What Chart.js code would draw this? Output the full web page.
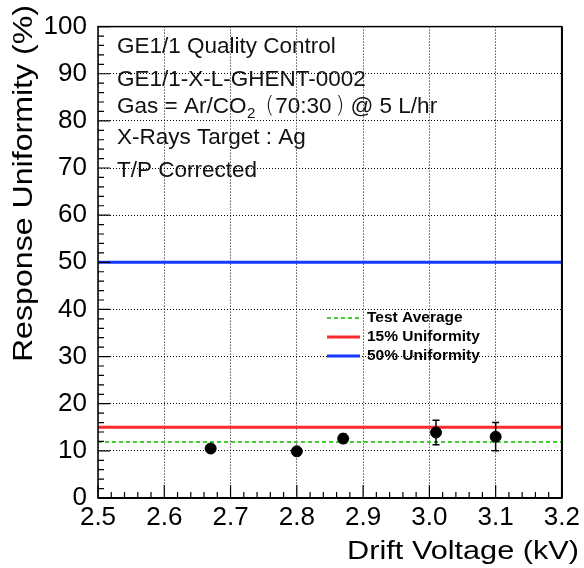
<!DOCTYPE html>
<html>
<head>
<meta charset="utf-8">
<script src="https://cdn.jsdelivr.net/npm/chart.js@4.4.1/dist/chart.umd.min.js"></script>
<style>
  html, body { margin: 0; padding: 0; background: #fff; }
  #wrap { width: 584px; height: 568px; }
</style>
</head>
<body>
<div id="wrap"><canvas id="chart" width="584" height="568"></canvas></div>
<script>
/* GE1/1 QC — response uniformity vs drift voltage */

// measured points
const driftVoltage  = [2.67, 2.80, 2.87, 3.01, 3.10];
const uniformity    = [10.5, 9.9, 12.6, 13.9, 13.0];
const uniformityErr = [0.4, 0.4, 0.9, 2.6, 3.0];

// reference levels
const testAverage = 11.9;
const limit15 = 15;
const limit50 = 50;

const xTicks = [2.5, 2.6, 2.7, 2.8, 2.9, 3.0, 3.1, 3.2];
const yTicks = [0, 10, 20, 30, 40, 50, 60, 70, 80, 90, 100];

const headerLines = [
  'GE1/1 Quality Control',
  'GE1/1-X-L-GHENT-0002',
  'GAS',
  'X-Rays Target : Ag',
  'T/P Corrected'
];

const FONT = '"Liberation Sans", Arial, Helvetica, sans-serif';

const hline = (y) => [{ x: xTicks[0], y }, { x: xTicks[xTicks.length - 1], y }];

// ROOT-ish decorations: frame with inner ticks, error bars, text box, legend
const rootStyle = {
  id: 'rootStyle',
  afterDatasetsDraw(chart) {
    const { ctx, chartArea: a, scales: { x, y } } = chart;

    // error bars
    ctx.save();
    ctx.strokeStyle = '#000';
    ctx.lineWidth = 1.5;
    driftVoltage.forEach((v, i) => {
      const px = x.getPixelForValue(v);
      const hi = y.getPixelForValue(uniformity[i] + uniformityErr[i]);
      const lo = y.getPixelForValue(uniformity[i] - uniformityErr[i]);
      ctx.beginPath();
      ctx.moveTo(px, hi); ctx.lineTo(px, lo);
      ctx.moveTo(px - 3.5, hi); ctx.lineTo(px + 3.5, hi);
      ctx.moveTo(px - 3.5, lo); ctx.lineTo(px + 3.5, lo);
      ctx.stroke();
    });
    ctx.restore();

    // frame
    ctx.save();
    ctx.strokeStyle = '#000';
    ctx.lineWidth = 1.5;
    ctx.strokeRect(a.left, a.top, a.right - a.left, a.bottom - a.top);
    ctx.lineWidth = 2;
    ctx.beginPath();
    ctx.moveTo(a.left, a.bottom); ctx.lineTo(a.right, a.bottom);
    ctx.moveTo(a.right, a.top); ctx.lineTo(a.right, a.bottom);
    ctx.stroke();

    // inner ticks: 5 subdivisions per major step
    ctx.lineWidth = 1.2;
    ctx.beginPath();
    for (let i = 0; i < xTicks.length; i++) {
      const px = x.getPixelForValue(xTicks[i]);
      ctx.moveTo(px, a.bottom); ctx.lineTo(px, a.bottom - 13);
      if (i < xTicks.length - 1) {
        const step = (xTicks[i + 1] - xTicks[i]) / 5;
        for (let k = 1; k < 5; k++) {
          const mx = x.getPixelForValue(xTicks[i] + k * step);
          ctx.moveTo(mx, a.bottom); ctx.lineTo(mx, a.bottom - 6);
        }
      }
    }
    for (let i = 0; i < yTicks.length; i++) {
      const py = y.getPixelForValue(yTicks[i]);
      ctx.moveTo(a.left, py); ctx.lineTo(a.left + 12, py);
      if (i < yTicks.length - 1) {
        const step = (yTicks[i + 1] - yTicks[i]) / 5;
        for (let k = 1; k < 5; k++) {
          const my = y.getPixelForValue(yTicks[i] + k * step);
          ctx.moveTo(a.left, my); ctx.lineTo(a.left + 6, my);
        }
      }
    }
    ctx.stroke();
    ctx.restore();

    // header text block
    ctx.save();
    ctx.fillStyle = '#111';
    ctx.textBaseline = 'alphabetic';
    ctx.textAlign = 'left';
    const baselines = [53, 86, 113, 144, 177];
    const tx = 117;
    headerLines.forEach((line, i) => {
      ctx.font = `22.5px ${FONT}`;
      if (line !== 'GAS') {
        ctx.fillText(line, tx, baselines[i]);
        return;
      }
      // Gas = Ar/CO2 ( 70:30 ) @ 5 L/hr with subscript and thin brackets
      let cx = tx;
      const b = baselines[i];
      const put = (s, font, dy, gapAfter) => {
        ctx.font = font;
        ctx.fillText(s, cx, b + dy);
        cx += ctx.measureText(s).width + gapAfter;
      };
      put('Gas = Ar/CO', `22.5px ${FONT}`, 0, 0.5);
      put('2', `15px ${FONT}`, 5, 10);
      put('(', `200 23px "DejaVu Sans", ${FONT}`, 0, 1);
      put('70:30', `22.5px ${FONT}`, 0, 4);
      put(')', `200 23px "DejaVu Sans", ${FONT}`, 0, 6);
      put('@ 5 L/hr', `22.5px ${FONT}`, 0, 0);
    });
    ctx.restore();

    // legend
    ctx.save();
    ctx.font = `bold 15.5px ${FONT}`;
    ctx.textBaseline = 'middle';
    ctx.fillStyle = '#000';
    const rows = [318, 337, 356];
    chart.data.datasets.slice(1).forEach((ds, i) => {
      const ly = rows[i];
      ctx.strokeStyle = ds.borderColor;
      ctx.lineWidth = ds.borderWidth;
      ctx.setLineDash(ds.borderDash || []);
      ctx.beginPath();
      ctx.moveTo(327, ly); ctx.lineTo(360, ly);
      ctx.stroke();
      ctx.setLineDash([]);
      ctx.fillText(ds.label, 367, ly);
    });
    ctx.restore();

    // axis titles, slightly widened like the ROOT canvas text
    ctx.save();
    ctx.fillStyle = '#000';
    ctx.font = `26px ${FONT}`;
    ctx.textBaseline = 'alphabetic';
    ctx.textAlign = 'right';
    ctx.translate(579, 559);
    ctx.scale(1.18, 1);
    ctx.fillText('Drift Voltage (kV)', 0, 0);
    ctx.restore();

    ctx.save();
    ctx.fillStyle = '#000';
    ctx.font = `27px ${FONT}`;
    ctx.textBaseline = 'alphabetic';
    ctx.textAlign = 'right';
    ctx.translate(32, 5);
    ctx.rotate(-Math.PI / 2);
    ctx.scale(1.19, 1);
    ctx.fillText('Response Uniformity (%)', 0, 0);
    ctx.restore();
  }
};

const tickFont = { family: FONT, size: 26 };

new Chart(document.getElementById('chart'), {
  type: 'scatter',
  data: {
    datasets: [
      {
        label: 'Uniformity',
        data: driftVoltage.map((v, i) => ({ x: v, y: uniformity[i] })),
        backgroundColor: '#000',
        borderColor: '#000',
        pointRadius: 5.5,
        pointHoverRadius: 5.5,
        showLine: false
      },
      {
        label: 'Test Average',
        data: hline(testAverage),
        showLine: true,
        borderColor: '#45c935',
        borderWidth: 2,
        borderDash: [4, 3],
        pointRadius: 0
      },
      {
        label: '15% Uniformity',
        data: hline(limit15),
        showLine: true,
        borderColor: '#ff2b2b',
        borderWidth: 3,
        pointRadius: 0
      },
      {
        label: '50% Uniformity',
        data: hline(limit50),
        showLine: true,
        borderColor: '#1538ff',
        borderWidth: 3,
        pointRadius: 0
      }
    ]
  },
  options: {
    responsive: false,
    devicePixelRatio: 1,
    animation: false,
    layout: { padding: { top: 22, right: 16, left: 0, bottom: 0 } },
    plugins: {
      legend: { display: false },
      tooltip: { enabled: false }
    },
    scales: {
      x: {
        type: 'linear',
        min: xTicks[0],
        max: xTicks[xTicks.length - 1],
        afterBuildTicks: (s) => { s.ticks = xTicks.map((v) => ({ value: v })); },
        afterFit: (s) => { s.height = 70; },
        ticks: {
          font: tickFont,
          color: '#000',
          padding: 4,
          maxRotation: 0,
          autoSkip: false,
          callback: (v) => Number(v).toFixed(1)
        },
        grid: { color: '#000', lineWidth: 1, drawTicks: false },
        border: { display: false, dash: [1, 2] }
      },
      y: {
        min: yTicks[0],
        max: yTicks[yTicks.length - 1],
        afterBuildTicks: (s) => { s.ticks = yTicks.map((v) => ({ value: v })); },
        afterFit: (s) => { s.width = 98; },
        ticks: {
          font: tickFont,
          color: '#000',
          padding: 11,
          autoSkip: false
        },
        grid: { color: '#000', lineWidth: 1, drawTicks: false },
        border: { display: false, dash: [1, 2] }
      }
    }
  },
  plugins: [rootStyle]
});
</script>
</body>
</html>
